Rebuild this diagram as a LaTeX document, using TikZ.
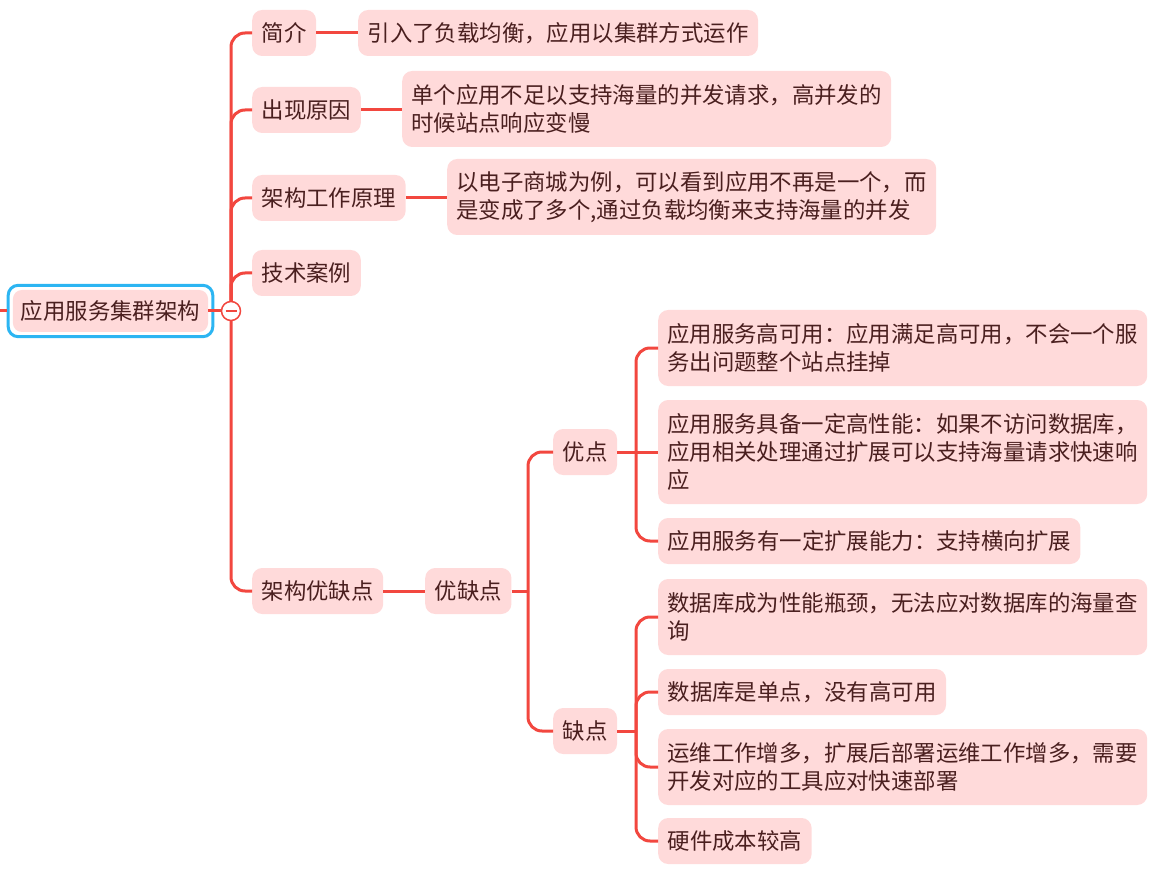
\documentclass[tikz,border=0pt]{standalone}
\usepackage{fontspec}
\newfontfamily\cjk{Noto Sans CJK SC}
\usetikzlibrary{fit}

\definecolor{topicfill}{HTML}{FFDADA}
\definecolor{linkred}{HTML}{F2473F}
\definecolor{ink}{HTML}{4A1F1F}
\definecolor{rootblue}{HTML}{2CB5F2}

\tikzset{
  topic/.style={fill=topicfill, rounded corners=10pt, text=ink, inner xsep=9.5pt,
    inner ysep=0pt, minimum height=46pt, anchor=west,
    font=\cjk\fontsize{22.4}{28}\selectfont},
  wide/.style={topic, inner xsep=9pt, text width=471pt, align=left, minimum height=76pt},
  link/.style={draw=linkred, line width=3pt, rounded corners=14pt},
}

\begin{document}
\begin{tikzpicture}[x=1pt, y=-1pt]
        \useasboundingbox (0,0) rectangle (1161,874);

        % ==== DEFINITIONS ====
        \def\hubX{231}  % main trunk
        \def\forkX{528} % trunk of pros / cons
        \def\leafX{636} % trunk of the leaves

        % ==== ROOT ====
        \node[topic, anchor=center, inner xsep=8pt, minimum height=42pt,
              rounded corners=9pt] (root) at (110.5,311) {应用服务集群架构};
        \node[draw=rootblue, line width=3pt, rounded corners=10pt, inner sep=4.5pt,
              fit=(root)] (rootframe) {};

        % ==== FIRST LEVEL ====
        \node[topic] (jj)   at (252,33)  {简介};
        \node[topic] (cxyy) at (252,110) {出现原因};
        \node[topic] (gzyl) at (252,198) {架构工作原理};
        \node[topic] (jsal) at (252,273) {技术案例};
        \node[topic] (yqdA) at (252,591) {架构优缺点};

        % ==== SECOND LEVEL ====
        \node[topic] (yr) at (358,33) {引入了负载均衡，应用以集群方式运作};
        \node[wide]  (dg) at (402,109) {单个应用不足以支持海量的并发请求，高并发的\\时候站点响应变慢};
        \node[wide]  (dz) at (447,197) {以电子商城为例，可以看到应用不再是一个，而\\是变成了多个,通过负载均衡来支持海量的并发};
        \node[topic] (yqdB) at (425,591) {优缺点};

        % ==== PROS AND CONS ====
        \node[topic] (yd) at (553,452) {优点};
        \node[topic] (qd) at (553,731) {缺点};

        % ==== PROS ====
        \node[wide]  (gky) at (658,348) {应用服务高可用：应用满足高可用，不会一个服\\务出问题整个站点挂掉};
        \node[wide, minimum height=104pt] (gxn) at (658,452) {应用服务具备一定高性能：如果不访问数据库，\\应用相关处理通过扩展可以支持海量请求快速响\\应};
        \node[topic] (kz) at (658,541) {应用服务有一定扩展能力：支持横向扩展};

        % ==== CONS ====
        \node[wide]  (pj) at (658,617) {数据库成为性能瓶颈，无法应对数据库的海量查\\询};
        \node[topic] (dd) at (658,692) {数据库是单点，没有高可用};
        \node[wide]  (yw) at (658,767) {运维工作增多，扩展后部署运维工作增多，需要\\开发对应的工具应对快速部署};
        \node[topic] (yj) at (658,841) {硬件成本较高};

        % ==== CONNECTORS ====
        \coordinate (stub) at (0,311);
        \coordinate (hub) at (\hubX,311);
        \draw[link] (stub) -- (rootframe.west);
        \draw[link] (root.east) -- (hub);
        \foreach \n in {jj,cxyy,gzyl,jsal,yqdA}
            \draw[link] (hub) |- (\n.west);

        \draw[link] (jj.east) -- (yr.west);
        \draw[link] (cxyy.east) -- (cxyy.east -| dg.west);
        \draw[link] (gzyl.east) -- (gzyl.east -| dz.west);
        \draw[link] (yqdA.east) -- (yqdB.west);

        \coordinate (forkB) at (\forkX,591);
        \draw[link] (yqdB.east) -- (forkB);
        \foreach \n in {yd,qd}
            \draw[link] (forkB) |- (\n.west);

        \coordinate (forkP) at (\leafX,452);
        \draw[link] (yd.east) -- (gxn.west);
        \foreach \n in {gky,kz}
            \draw[link] (forkP) |- (\n.west);

        \coordinate (forkC) at (\leafX,731);
        \draw[link] (qd.east) -- (forkC);
        \foreach \n in {pj,dd,yw,yj}
            \draw[link] (forkC) |- (\n.west);

        % ==== COLLAPSE MARK ====
        \node[circle, draw=linkred, fill=white, line width=1.5pt, minimum size=19pt,
              inner sep=0pt] (fold) at (hub) {};
        \draw[linkred, line width=1.5pt] ([xshift=-5.5pt]fold.center) -- ([xshift=5.5pt]fold.center);
    \end{tikzpicture}
\end{document}
